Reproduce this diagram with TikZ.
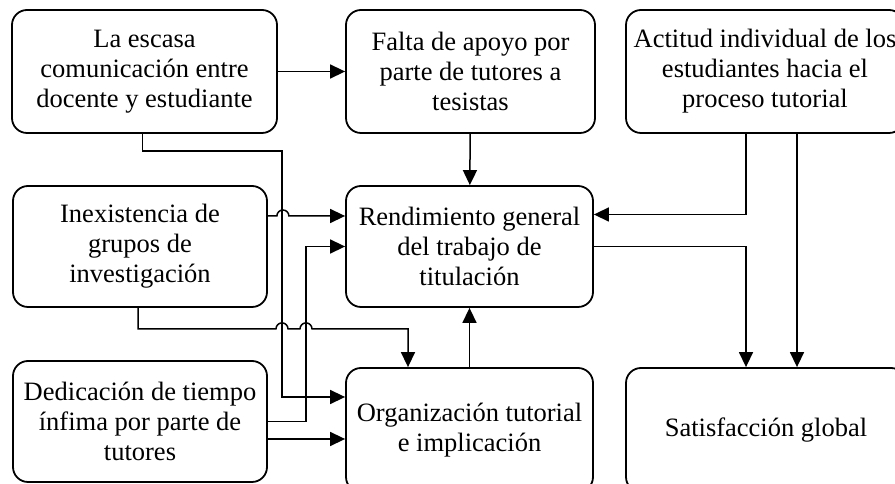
\documentclass[tikz,border=0pt]{standalone}
\usepackage{fontspec}
\setmainfont{Liberation Serif}
\usetikzlibrary{arrows.meta}
\begin{document}
\begin{tikzpicture}[
        x=1pt, y=1pt,
        box/.style={draw, rounded corners=15pt, line width=1.8pt, align=center,
            inner sep=0pt, font=\fontsize{26.5}{30}\selectfont},
        forward/.style={->, line width=1.5pt},
        >={Triangle[length=15pt, width=14pt]}
    ]
        \useasboundingbox (0,0) rectangle (895,484);
        % top row
        \node[box, minimum width=265pt, minimum height=123pt] (com) at (144.5, 412.5) {La escasa\\comunicación entre\\docente y estudiante};
        \node[box, minimum width=249pt, minimum height=123pt] (apoyo) at (470.5, 412.5) {Falta de apoyo por\\parte de tutores a\\tesistas};
        \node[box, minimum width=278pt, minimum height=123pt] (actitud) at (765, 412.5) {Actitud individual de los\\estudiantes hacia el\\proceso tutorial};
        % middle row
        \node[box, minimum width=254pt, minimum height=121pt] (grupos) at (140, 237.5) {Inexistencia de\\grupos de\\investigación};
        \node[box, minimum width=247pt, minimum height=121pt] (rend) at (469.5, 237.5) {Rendimiento general\\del trabajo de\\titulación};
        % bottom row
        \node[box, minimum width=254pt, minimum height=121pt] (tiempo) at (140, 62.5) {Dedicación de tiempo\\ínfima por parte de\\tutores};
        \node[box, minimum width=247pt, minimum height=124pt] (org) at (469.5, 54) {Organización tutorial\\e implicación};
        \node[box, minimum width=280pt, minimum height=124pt] (sat) at (766, 54) {Satisfacción global};
        % vertical runs on the left
        \coordinate (va) at (282, 0);
        \coordinate (vf) at (306, 0);
        \coordinate (orgin) at ([yshift=33pt]org.west);

        \draw[forward] (com) -- (apoyo);
        \draw[forward] (apoyo) -- (rend);
        \draw[forward] ([xshift=-19pt]actitud.south) |- ([yshift=32pt]rend.east);
        \draw[forward] ([xshift=32pt]actitud.south) -- ([xshift=32pt]actitud.south |- sat.north);
        \draw[forward] (rend.east) -| ([xshift=-20pt]sat.north);
        \draw[forward] ([xshift=-2pt]com.south) -- ++(0,-17pt) -| (va |- orgin) -- (orgin);
        \draw[forward] (tiempo.east) -| (vf |- rend.west) -- (rend.west);
        \draw[forward] ([yshift=30.5pt]grupos.east) -- ++(9pt,0) arc[start angle=180, end angle=0, radius=6pt] -- ([yshift=30.5pt]rend.west);
        \draw[forward] ([xshift=-2pt]grupos.south) -- ++(0,-21pt) -- ++(138pt,0)
            arc[start angle=180, end angle=0, radius=6pt] -- ++(12pt,0)
            arc[start angle=180, end angle=0, radius=6pt] -| ([xshift=-61.5pt]org.north);
        \draw[forward] ([yshift=-17.5pt]tiempo.east) -- ([yshift=-17.5pt]tiempo.east -| org.west);
        \draw[forward] (org) -- (rend);
    \end{tikzpicture}
\end{document}
